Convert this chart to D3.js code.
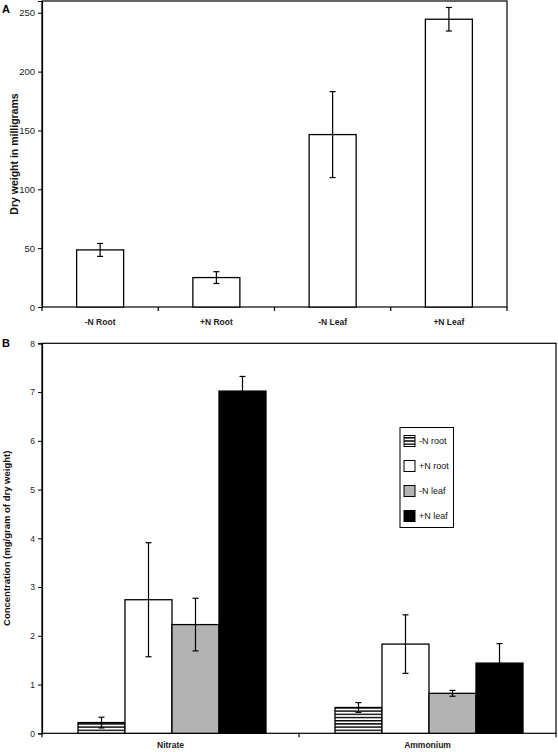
<!DOCTYPE html>
<html><head><meta charset="utf-8">
<script src="https://cdn.jsdelivr.net/npm/d3@7"></script>
<style>body{margin:0;background:#fff}svg{display:block}text{font-family:Arial,"Liberation Sans",sans-serif}</style>
</head><body>
<script>
// Panel A data
const catsA = ["-N Root", "+N Root", "-N Leaf", "+N Leaf"];
const valsA = [48.5, 25, 146.5, 244.5];
const errA = [5.5, 5, 36.5, 10];
const ticksA = [0, 50, 100, 150, 200, 250];

// Panel B data
const catsB = ["Nitrate", "Ammonium"];
const seriesB = ["-N root", "+N root", "-N leaf", "+N leaf"];
const nitrateVals = [0.22, 2.74, 2.23, 7.02];
const nitrateErr = [0.11, 1.17, 0.54, 0.3];
const ammoniumVals = [0.53, 1.83, 0.82, 1.44];
const ammoniumErr = [0.1, 0.6, 0.06, 0.4];
const ticksB = [0, 1, 2, 3, 4, 5, 6, 7, 8];
const fillsB = ["url(#hatch)", "#ffffff", "#b3b3b3", "#000000"];

const W = 558, H = 752;
const svg = d3.select("body").append("svg").attr("width", W).attr("height", H);
const defs = svg.append("defs");
const pat = defs.append("pattern").attr("id", "hatch").attr("patternUnits", "userSpaceOnUse")
  .attr("width", 6).attr("height", 3.2);
pat.append("rect").attr("width", 6).attr("height", 3.2).attr("fill", "#fff");
pat.append("rect").attr("width", 6).attr("height", 1.4).attr("fill", "#000");

// ---------- Panel A ----------
{
  const L = 42, R = 507, T = 1, B = 307;
  const xc = d3.scaleBand().domain(catsA).range([L, R]);
  const y = d3.scaleLinear().domain([0, 260]).range([B, T]);
  const g = svg.append("g");
  g.append("rect").attr("x", L).attr("y", T).attr("width", R - L).attr("height", B - T)
    .attr("fill", "none").attr("stroke", "#000").attr("stroke-width", 1.2);
  const ya = g.append("g").attr("transform", `translate(${L},0)`)
    .call(d3.axisLeft(y).tickValues(ticksA).tickSize(4).tickPadding(3));
  ya.select(".domain").attr("stroke-width", 1.2);
  ya.selectAll("text").attr("font-size", 9.5).attr("fill", "#222");
  const bounds = catsA.map(c => xc(c)).concat([R]);
  g.selectAll(".ct").data(bounds).join("line")
    .attr("x1", d => d).attr("x2", d => d).attr("y1", B).attr("y2", B + 4)
    .attr("stroke", "#000").attr("stroke-width", 1.2);
  g.selectAll(".cl").data(catsA).join("text")
    .attr("x", d => xc(d) + xc.bandwidth() / 2).attr("y", B + 18)
    .attr("text-anchor", "middle").attr("font-size", 8.5).attr("font-weight", "bold").attr("fill", "#222")
    .text(d => d);
  g.selectAll(".bar").data(catsA).join("rect")
    .attr("x", d => xc(d) + xc.bandwidth() / 2 - 23.5).attr("width", 47)
    .attr("y", (d, i) => y(valsA[i])).attr("height", (d, i) => B - y(valsA[i]))
    .attr("fill", "#fff").attr("stroke", "#000").attr("stroke-width", 1.3);
  catsA.forEach((c, i) => {
    const cx = xc(c) + xc.bandwidth() / 2;
    const y1 = y(valsA[i] + errA[i]), y2 = y(valsA[i] - errA[i]);
    g.append("line").attr("x1", cx).attr("x2", cx).attr("y1", y1).attr("y2", y2).attr("stroke", "#000").attr("stroke-width", 1.2);
    [y1, y2].forEach(yy => g.append("line").attr("x1", cx - 3).attr("x2", cx + 3).attr("y1", yy).attr("y2", yy).attr("stroke", "#000").attr("stroke-width", 1.2));
  });
  g.append("text").attr("transform", `translate(18,${(T + B) / 2}) rotate(-90)`)
    .attr("text-anchor", "middle").attr("font-size", 10.5).attr("font-weight", "bold").attr("fill", "#111")
    .text("Dry weight in milligrams");
  g.append("text").attr("x", 2).attr("y", 13).attr("font-size", 11).attr("font-weight", "bold").text("A");
}

// ---------- Panel B ----------
{
  const L = 42, R = 556, T = 343.3, B = 733.3;
  const x0 = d3.scaleBand().domain(catsB).range([L, R]);
  const y = d3.scaleLinear().domain([0, 8]).range([B, T]);
  const g = svg.append("g");
  g.append("rect").attr("x", L).attr("y", T).attr("width", R - L).attr("height", B - T)
    .attr("fill", "none").attr("stroke", "#000").attr("stroke-width", 1.2);
  const ya = g.append("g").attr("transform", `translate(${L},0)`)
    .call(d3.axisLeft(y).tickValues(ticksB).tickSize(4).tickPadding(3));
  ya.select(".domain").attr("stroke-width", 1.2);
  ya.selectAll("text").attr("font-size", 8.5).attr("fill", "#222");
  const bounds = catsB.map(c => x0(c)).concat([R]);
  g.selectAll(".ct").data(bounds).join("line")
    .attr("x1", d => d).attr("x2", d => d).attr("y1", B).attr("y2", B + 4)
    .attr("stroke", "#000").attr("stroke-width", 1.2);
  g.selectAll(".cl").data(catsB).join("text")
    .attr("x", d => x0(d) + x0.bandwidth() / 2).attr("y", B + 15)
    .attr("text-anchor", "middle").attr("font-size", 8.5).attr("font-weight", "bold").attr("fill", "#222")
    .text(d => d);
  const bw = 47;
  const groups = [[nitrateVals, nitrateErr], [ammoniumVals, ammoniumErr]];
  catsB.forEach((c, ci) => {
    const [vals, errs] = groups[ci];
    const start = x0(c) + x0.bandwidth() / 2 - 2 * bw + 1.5;
    const x1 = d3.scaleBand().domain(seriesB).range([start, start + 4 * bw]);
    seriesB.forEach((s, si) => {
      g.append("rect").attr("x", x1(s)).attr("width", bw)
        .attr("y", y(vals[si])).attr("height", B - y(vals[si]))
        .attr("fill", fillsB[si]).attr("stroke", "#000").attr("stroke-width", 1.3);
    });
    seriesB.forEach((s, si) => {
      const cx = x1(s) + bw / 2;
      const ya1 = y(vals[si] + errs[si]), ya2 = y(vals[si] - errs[si]);
      g.append("line").attr("x1", cx).attr("x2", cx).attr("y1", ya1).attr("y2", ya2).attr("stroke", "#000").attr("stroke-width", 1.2);
      [ya1, ya2].forEach(yy => g.append("line").attr("x1", cx - 3).attr("x2", cx + 3).attr("y1", yy).attr("y2", yy).attr("stroke", "#000").attr("stroke-width", 1.2));
    });
  });
  g.append("text").attr("transform", `translate(7,${(T + B) / 2}) rotate(-90)`)
    .attr("text-anchor", "middle").attr("dy", "0.35em").attr("font-size", 9.5).attr("font-weight", "bold").attr("fill", "#111")
    .text("Concentration (mg/gram of dry weight)");
  g.append("text").attr("x", 2).attr("y", 347).attr("font-size", 11).attr("font-weight", "bold").text("B");

  // legend
  const lg = g.append("g").attr("transform", "translate(400,427.5)");
  lg.append("rect").attr("width", 53.5).attr("height", 100).attr("fill", "#fff").attr("stroke", "#000").attr("stroke-width", 1);
  seriesB.forEach((s, si) => {
    const cy = 13.5 + si * 25;
    lg.append("rect").attr("x", 4).attr("y", cy - 5.5).attr("width", 11).attr("height", 11)
      .attr("fill", fillsB[si]).attr("stroke", "#000").attr("stroke-width", 1);
    lg.append("text").attr("x", 19).attr("y", cy).attr("dy", "0.35em").attr("font-size", 9).attr("fill", "#111").text(s);
  });
}
</script>
</body></html>
